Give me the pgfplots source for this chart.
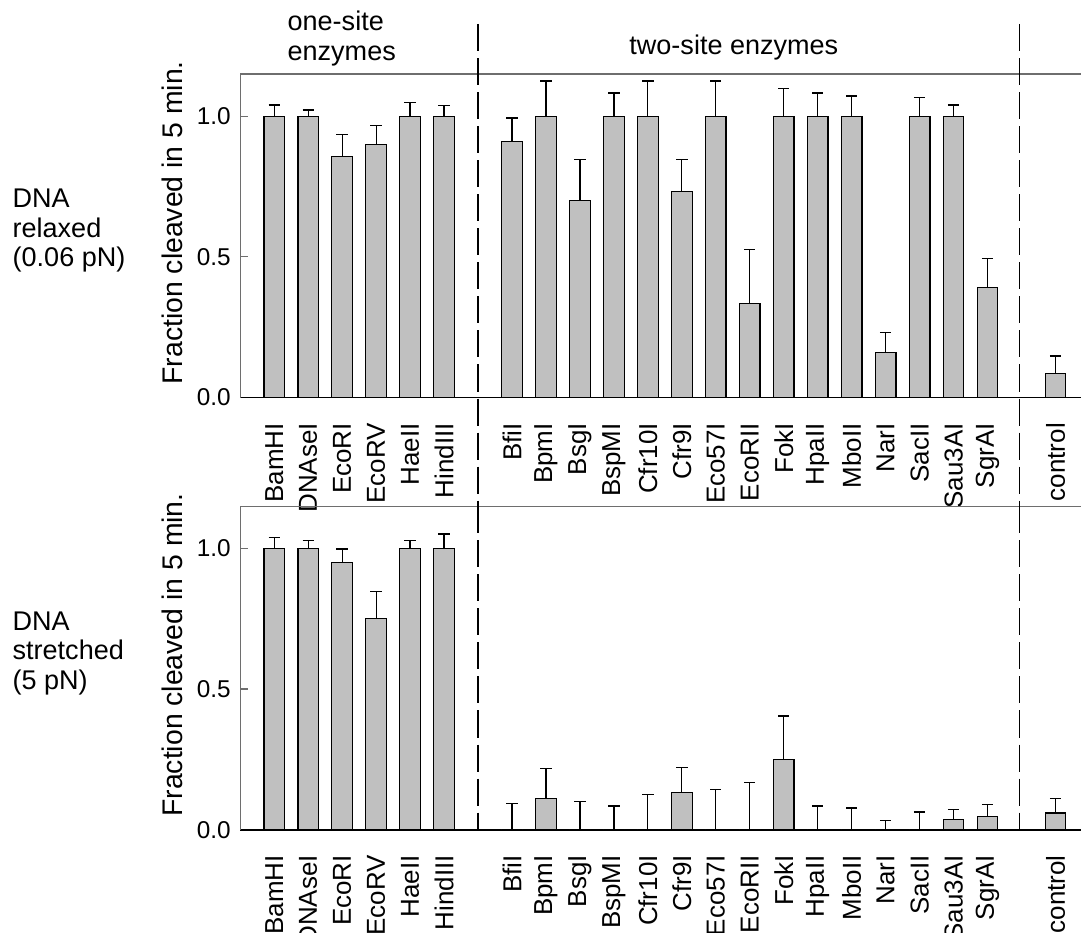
\documentclass[border=0pt]{standalone}
\usepackage{pgfplots}
\pgfplotsset{compat=1.18}
\usepackage{pgfplotstable}
\usepackage{fontspec}
\setmainfont{Liberation Sans}
\definecolor{barfill}{RGB}{192,192,192}
\definecolor{axgray}{RGB}{110,110,110}

\pgfplotstableread{
x y e
0 1.000 0.040
1 1.000 0.022
2 0.857 0.077
3 0.899 0.068
4 1.000 0.050
5 1.000 0.038
7 0.910 0.084
8 1.000 0.125
9 0.700 0.145
10 1.000 0.083
11 1.000 0.125
12 0.732 0.115
13 1.000 0.125
14 0.333 0.193
15 1.000 0.100
16 1.000 0.083
17 1.000 0.072
18 0.160 0.072
19 1.000 0.066
20 1.000 0.040
21 0.391 0.102
23 0.085 0.063
}\relaxed

\pgfplotstableread{
x y e
0 1.000 0.039
1 1.000 0.027
2 0.950 0.048
3 0.750 0.096
4 1.000 0.027
5 1.000 0.051
7 0 0.092
8 0.111 0.106
9 0 0.099
10 0 0.084
11 0 0.126
12 0.133 0.089
13 0 0.143
14 0 0.167
15 0.250 0.154
16 0 0.084
17 0 0.077
18 0 0.033
19 0 0.063
20 0.037 0.034
21 0.046 0.044
23 0.059 0.051
}\stretched

\pgfplotsset{
  panel/.style={
    scale only axis,
    width=311.1pt, height=119.7pt,
    xmin=-1, xmax=23.75, ymin=0, ymax=1.15,
    axis x line*=bottom, axis y line*=left,
    x axis line style={black, line width=0.7pt},
    y axis line style={axgray, line width=0.45pt},
    ytick={0,0.5,1},
    yticklabel style={font=\fontsize{9}{10}\selectfont,
      /pgf/number format/.cd, fixed, fixed zerofill, precision=1, assume math mode=true},
    ytick style={axgray, line width=0.45pt},
    tick align=inside, major tick length=2.8pt,
    xtick={0,1,2,3,4,5,7,8,9,10,11,12,13,14,15,16,17,18,19,20,21,23},
    xticklabels={BamHI,DNAseI,EcoRI,EcoRV,HaeII,HindIII,BfiI,BpmI,BsgI,BspMI,Cfr10I,Cfr9I,Eco57I,EcoRII,FokI,HpaII,MboII,NarI,SacII,Sau3AI,SgrAI,control},
    xtick style={draw=none},
    xticklabel style={rotate=90, anchor=east, inner sep=0pt, font=\fontsize{9.6}{10}\selectfont},
    xticklabel shift=6.5pt,
    every axis y label/.style={at={(rel axis cs:-0.081,0.54)}, rotate=90, anchor=center, font=\fontsize{10.5}{12}\selectfont},
    ylabel={Fraction cleaved in 5 min.},
    clip=false,
    ybar, bar width=7.6pt,
  },
  barstyle/.style={
    fill=barfill, draw=black, line width=0.45pt,
    error bars/.cd, y dir=plus, y explicit,
    error bar style={black, line width=0.45pt},
    error mark options={rotate=90, mark size=2.1pt, line width=0.45pt, black},
  },
}

\begin{document}
\begin{tikzpicture}
\path[use as bounding box] (-88.9pt,27.4pt) rectangle (311.1pt,-317.8pt);

\begin{axis}[panel, at={(0pt,0pt)}, anchor=north west]
\addplot[barstyle] table[x=x, y=y, y error=e] {\relaxed};
\draw[axgray, line width=0.45pt] (axis cs:-1,1.15) -- (axis cs:23.75,1.15);
\draw[black, line width=0.45pt, dash pattern=on 10pt off 2.6pt] (axis cs:6,1.328) -- (axis cs:6,-0.385);
\draw[black, line width=0.45pt, dash pattern=on 10pt off 2.6pt] (axis cs:21.93,1.328) -- (axis cs:21.93,-0.385);
\node[anchor=south west, align=left, inner sep=0pt, font=\fontsize{10}{10.9}\selectfont] at (axis cs:0.38,1.178) {one-site\\enzymes};
\node[anchor=base, inner sep=0pt, font=\fontsize{10}{12}\selectfont] at (axis cs:13.53,1.221) {two-site enzymes};
\node[anchor=west, align=left, inner sep=0pt, font=\fontsize{10}{10.9}\selectfont] at (rel axis cs:-0.2713,0.515) {DNA\\relaxed\\(0.06 pN)};
\end{axis}

\begin{axis}[panel, at={(0pt,-159.9pt)}, anchor=north west]
\addplot[barstyle] table[x=x, y=y, y error=e] {\stretched};
\draw[axgray, line width=0.45pt] (axis cs:-1,1.15) -- (axis cs:23.75,1.15);
\draw[black, line width=0.45pt, dash pattern=on 10pt off 2.6pt] (axis cs:6,1.15) -- (axis cs:6,0);
\draw[black, line width=0.45pt, dash pattern=on 10pt off 2.6pt] (axis cs:21.93,1.15) -- (axis cs:21.93,0);
\node[anchor=west, align=left, inner sep=0pt, font=\fontsize{10}{10.9}\selectfont] at (rel axis cs:-0.2713,0.545) {DNA\\stretched\\(5 pN)};
\end{axis}
\end{tikzpicture}
\end{document}
